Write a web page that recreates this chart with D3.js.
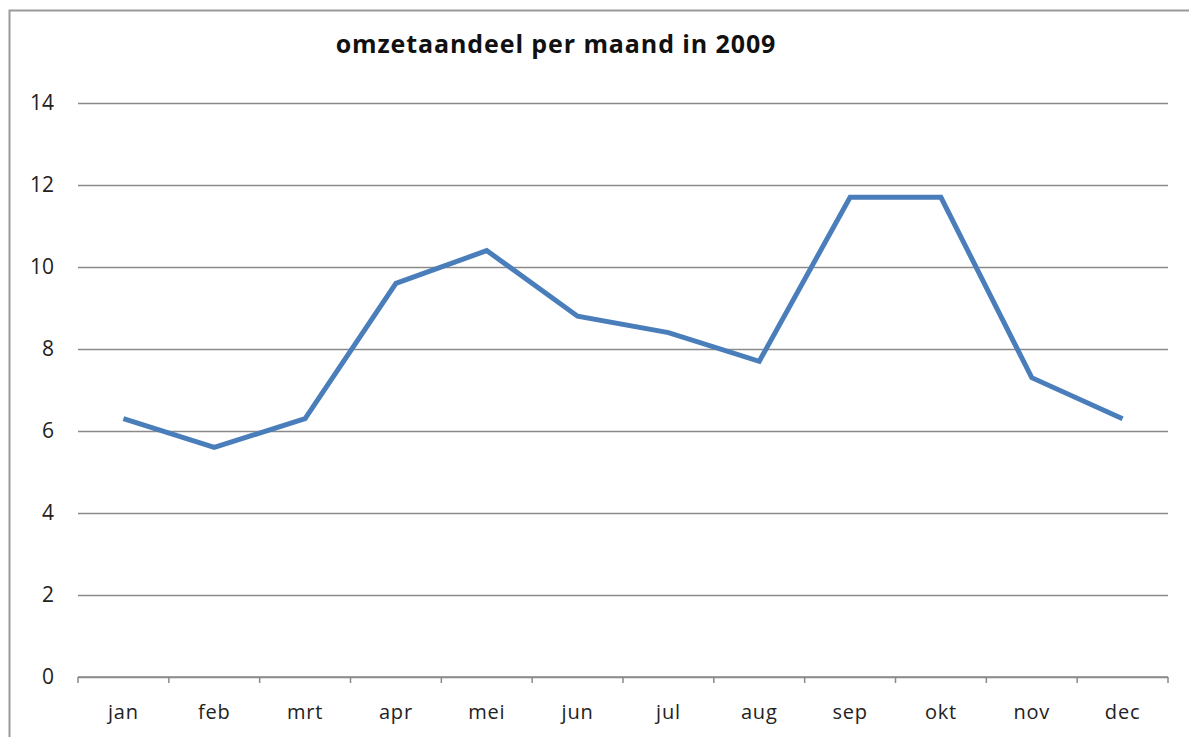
<!DOCTYPE html>
<html>
<head>
<meta charset="utf-8">
<script src="https://cdn.jsdelivr.net/npm/d3@7"></script>
<style>
  body { margin: 0; background: #fff; }
  svg { display: block; }
  text { font-family: "Open Sans", sans-serif; fill: #222; }
</style>
</head>
<body>
<div id="chart"></div>
<script>
// data
var months = ["jan","feb","mrt","apr","mei","jun","jul","aug","sep","okt","nov","dec"];
var share = [6.3, 5.6, 6.3, 9.6, 10.4, 8.8, 8.4, 7.7, 11.7, 11.7, 7.3, 6.3];
var yTicks = [0, 2, 4, 6, 8, 10, 12, 14];
var title = "omzetaandeel per maand in 2009";

var W = 1189, H = 737;
var margin = {top: 103, right: 21, bottom: 60, left: 78};
var width = W - margin.left - margin.right;
var height = H - margin.top - margin.bottom;

var root = d3.select("#chart").append("svg")
    .attr("width", W)
    .attr("height", H);

// outer chart border
root.append("rect")
    .attr("x", 9.5).attr("y", 10.5)
    .attr("width", W + 20).attr("height", H + 20)
    .attr("fill", "none")
    .attr("stroke", "#9a9a9a")
    .attr("stroke-width", 2);

root.append("text")
    .attr("x", 556).attr("y", 53)
    .attr("text-anchor", "middle")
    .style("font-size", "25px")
    .style("font-weight", "bold")
    .style("letter-spacing", "0.9px")
    .style("fill", "#111")
    .text(title);

var svg = root.append("g")
    .attr("transform", "translate(" + margin.left + "," + margin.top + ")");

var x = d3.scaleBand().domain(months).range([0, width]);
var y = d3.scaleLinear().domain([0, 14]).range([height, 0]);

// gridlines + y labels
svg.append("g")
    .call(d3.axisLeft(y).tickValues(yTicks).tickSize(-width).tickPadding(24))
    .call(function(g) {
      g.select(".domain").remove();
      g.selectAll(".tick line").attr("stroke", "#8a8a8a").attr("stroke-width", 1.5);
      g.selectAll(".tick text").style("font-size", "21px").attr("fill", "#222");
    });

// x axis with ticks between categories
var xAxis = svg.append("g")
    .attr("transform", "translate(0," + height + ")");
xAxis.append("line")
    .attr("x1", 0).attr("x2", width)
    .attr("stroke", "#8a8a8a").attr("stroke-width", 1.5);
xAxis.selectAll("line.sep")
    .data(d3.range(months.length + 1))
    .enter().append("line")
    .attr("class", "sep")
    .attr("x1", function(i) { return i * x.bandwidth(); })
    .attr("x2", function(i) { return i * x.bandwidth(); })
    .attr("y1", 0).attr("y2", 6)
    .attr("stroke", "#8a8a8a").attr("stroke-width", 1.5);
xAxis.selectAll("text")
    .data(months)
    .enter().append("text")
    .attr("x", function(d) { return x(d) + x.bandwidth() / 2; })
    .attr("y", 42)
    .attr("text-anchor", "middle")
    .style("font-size", "20px")
    .style("letter-spacing", "0.8px")
    .text(function(d) { return d; });

// the line
var line = d3.line()
    .x(function(d, i) { return x(months[i]) + x.bandwidth() / 2; })
    .y(function(d) { return y(d); });

svg.append("path")
    .datum(share)
    .attr("fill", "none")
    .attr("stroke", "#4a7ebb")
    .attr("stroke-width", 5)
    .attr("stroke-linejoin", "miter")
    .attr("d", line);
</script>
</body>
</html>
